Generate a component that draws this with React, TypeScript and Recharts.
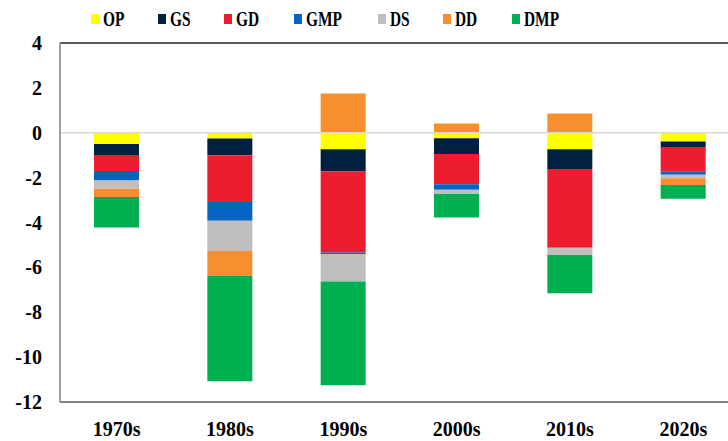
import { BarChart, Bar, XAxis, YAxis, ReferenceLine } from "recharts";

const DECADES = ["1970s", "1980s", "1990s", "2000s", "2010s", "2020s"];
const OP = [-0.5, -0.26, -0.73, -0.25, -0.74, -0.39];
const GS = [-0.49, -0.74, -1.0, -0.7, -0.88, -0.25];
const GD = [-0.71, -2.09, -3.61, -1.34, -3.5, -1.1];
const GMP = [-0.43, -0.83, -0.06, -0.25, 0.06, -0.13];
const DS = [-0.37, -1.35, -1.23, -0.19, -0.33, -0.16];
const DD = [-0.36, -1.1, 1.75, 0.41, 0.8, -0.3];
const DMP = [-1.36, -4.71, -4.62, -1.05, -1.7, -0.61];
const Y_TICKS = [-12, -10, -8, -6, -4, -2, 0, 2, 4];

const SERIES = [
    { key: "OP", values: OP, color: "#FFFF00" },
    { key: "GS", values: GS, color: "#002040" },
    { key: "GD", values: GD, color: "#ED1C2E" },
    { key: "GMP", values: GMP, color: "#0563C1" },
    { key: "DS", values: DS, color: "#BFBFBF" },
    { key: "DD", values: DD, color: "#F78F2E" },
    { key: "DMP", values: DMP, color: "#00B050" },
];

// left edge of each legend swatch
const LEGEND_LEFT = [91, 158, 224, 294, 378, 443, 512];

const data = DECADES.map((decade, i) => {
    const row: Record<string, string | number> = { decade };
    SERIES.forEach((s) => {
        row[s.key] = s.values[i];
    });
    return row;
});

const FONT = "'Liberation Serif', 'Times New Roman', serif";

export default function App() {
    return (
        <div
            style={{
                position: "fixed",
                top: 0,
                left: 0,
                width: 728,
                height: 441,
                overflow: "hidden",
                background: "#fff",
                fontFamily: FONT,
            }}
        >
            {SERIES.map((s, i) => (
                <div key={s.key} style={{ position: "absolute", left: LEGEND_LEFT[i], top: 5, display: "flex", alignItems: "center" }}>
                    <span style={{ width: 8, height: 10, background: s.color, display: "inline-block" }} />
                    <span
                        style={{
                            marginLeft: 4,
                            fontSize: 22,
                            fontWeight: "bold",
                            color: "#000",
                            display: "inline-block",
                            transform: "scaleX(0.7)",
                            transformOrigin: "left center",
                            lineHeight: "28px",
                        }}
                    >
                        {s.key}
                    </span>
                </div>
            ))}

            <BarChart
                width={760}
                height={441}
                data={data}
                stackOffset="sign"
                margin={{ top: 43, right: 20, bottom: 0, left: 0 }}
                style={{ position: "absolute", top: 0, left: 0 }}
            >
                <XAxis
                    dataKey="decade"
                    height={39}
                    tickSize={0}
                    tickMargin={20}
                    axisLine={{ stroke: "#595959", strokeWidth: 1.5 }}
                    tick={{ fill: "#000", fontSize: 20, fontWeight: "bold", fontFamily: FONT }}
                />
                <YAxis
                    width={60}
                    domain={[-12, 4]}
                    ticks={Y_TICKS}
                    interval={0}
                    tickSize={0}
                    tickMargin={18}
                    axisLine={{ stroke: "#808080", strokeWidth: 1.5 }}
                    tick={{ fill: "#000", fontSize: 20, fontWeight: "bold", fontFamily: FONT }}
                />
                <ReferenceLine y={0} stroke="#D9D9D9" strokeWidth={1.5} />
                <ReferenceLine y={4} stroke="#262626" strokeWidth={1.5} />
                {SERIES.map((s) => (
                    <Bar key={s.key} dataKey={s.key} stackId="a" fill={s.color} barSize={45} isAnimationActive={false} />
                ))}
            </BarChart>
        </div>
    );
}
